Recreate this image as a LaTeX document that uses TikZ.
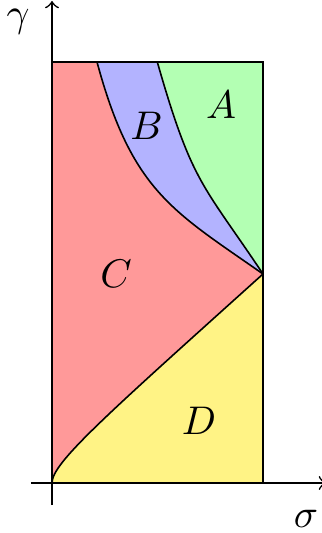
\documentclass[tikz,border=0pt]{standalone}
\usepackage{tikz}
\definecolor{regA}{RGB}{179,255,179}
\definecolor{regB}{RGB}{179,179,255}
\definecolor{regC}{RGB}{255,153,153}
\definecolor{regD}{RGB}{255,243,133}
\tikzset{
  bnd/.style={draw=black, line width=0.4pt},
  axis/.style={->, line width=0.4pt},
  lbl/.style={inner sep=0pt}
}
\begin{document}
\begin{tikzpicture}[x=0.25pt,y=0.25pt]
\useasboundingbox (-52,-50) rectangle (269,483);
\coordinate (O) at (0,0);
\coordinate (TR) at (211,421);
\coordinate (BR) at (211,0);
\coordinate (M) at (211,209);
\coordinate (P1) at (45,421);
\coordinate (P2) at (105.3,421);
% fills
\fill[regC] (O) rectangle (TR);
\fill[regB] (P1) .. controls (80,291.5) and (121,272) .. (M) -- (TR) -- cycle;
\fill[regA] (P2) .. controls (140.3,298.5) and (151,299) .. (M) -- (TR) -- cycle;
\fill[regD] (O) .. controls (0,20) and (51,65) .. (M) -- (BR) -- cycle;
% boundaries
\draw[bnd] (P1) .. controls (80,291.5) and (121,272) .. (M);
\draw[bnd] (P2) .. controls (140.3,298.5) and (151,299) .. (M);
\draw[bnd] (O) .. controls (0,20) and (51,65) .. (M);
\draw[bnd] (O) rectangle (TR);
% axes
\coordinate (xs) at (-21,0);
\coordinate (xe) at (274,0);
\coordinate (ys) at (0,-22);
\coordinate (ye) at (0,482);
\draw[axis] (xs) -- (xe);
\draw[axis] (ys) -- (ye);
% labels
\node[lbl] (lA) at (169,378) {$A$};
\node[lbl] (lB) at (94.5,357.5) {$B$};
\node[lbl] (lC) at (64,209.5) {$C$};
\node[lbl] (lD) at (147,62.5) {$D$};
\node[lbl] (lg) at (-34,461) {$\gamma$};
\node[lbl] (ls) at (254,-35.5) {$\sigma$};
\end{tikzpicture}
\end{document}
